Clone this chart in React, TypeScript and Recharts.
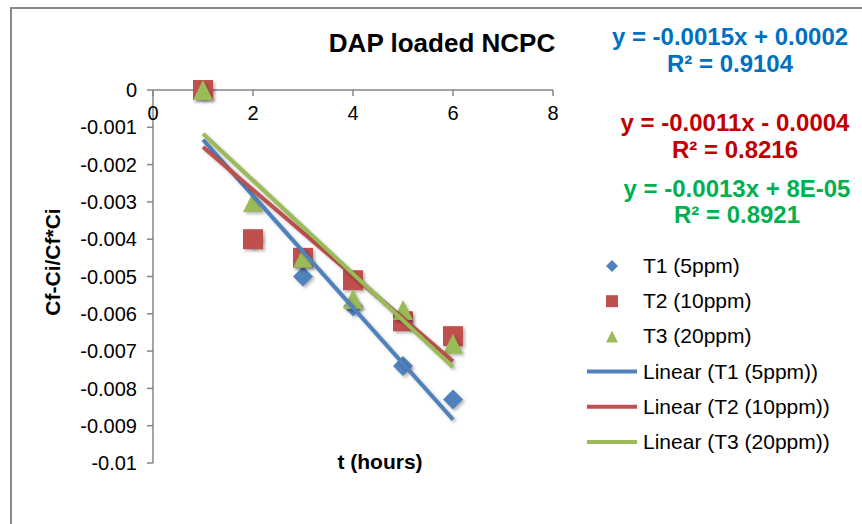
import React from 'react';
import { ScatterChart, Scatter, XAxis, YAxis, Legend } from 'recharts';

// Sampling times (hours) and measured Cf-Ci/Cf*Ci for each dose
const hours = [1, 2, 3, 4, 5, 6];
const t1 = [0, -0.004, -0.005, -0.0058, -0.0074, -0.0083];
const t2 = [0, -0.004, -0.0045, -0.0051, -0.0062, -0.0066];
const t3 = [0, -0.003, -0.0045, -0.0056, -0.0059, -0.0068];

const seriesNames = ['T1 (5ppm)', 'T2 (10ppm)', 'T3 (20ppm)'];

// Trendline captions (rounded coefficients of the least-squares fits below)
const equationLabels = ['y = -0.0015x + 0.0002', 'y = -0.0011x - 0.0004', 'y = -0.0013x + 8E-05'];
const rSquared = ['0.9104', '0.8216', '0.8921'];

const xTicks = [0, 2, 4, 6, 8];
const yTicks = [0, -0.001, -0.002, -0.003, -0.004, -0.005, -0.006, -0.007, -0.008, -0.009, -0.01];

const FONT = '"Liberation Sans", Arial, Helvetica, sans-serif';
const AXIS = '#868686';
const markerColors = ['#4F81BD', '#C0504D', '#9BBB59'];
const textColors = ['#0070C0', '#C00000', '#00B050'];

const series = [t1, t2, t3];
const pointSets = series.map((ys) => hours.map((x, i) => ({ x, y: ys[i] })));

// ordinary least squares, like a spreadsheet linear trendline
const linearFit = (xs: number[], ys: number[]) => {
  const n = xs.length;
  const mx = xs.reduce((a, b) => a + b, 0) / n;
  const my = ys.reduce((a, b) => a + b, 0) / n;
  let sxy = 0;
  let sxx = 0;
  xs.forEach((x, i) => {
    sxy += (x - mx) * (ys[i] - my);
    sxx += (x - mx) * (x - mx);
  });
  const m = sxy / sxx;
  return { m, b: my - m * mx };
};

const fitSets = series.map((ys) => {
  const { m, b } = linearFit(hours, ys);
  const x0 = hours[0];
  const x1 = hours[hours.length - 1];
  return [
    { x: x0, y: m * x0 + b },
    { x: x1, y: m * x1 + b },
  ];
});

const shadow = { filter: 'drop-shadow(2px 2px 1.5px rgba(0,0,0,0.28))' };

const Diamond = (p: any) => {
  const { cx, cy } = p;
  const r = 10;
  return <path d={`M${cx},${cy - r}L${cx + r},${cy}L${cx},${cy + r}L${cx - r},${cy}Z`} fill={markerColors[0]} style={shadow} />;
};
const Square = (p: any) => {
  const { cx, cy } = p;
  return <rect x={cx - 10} y={cy - 10} width={20} height={20} fill={markerColors[1]} style={shadow} />;
};
const Triangle = (p: any) => {
  const { cx, cy } = p;
  return <path d={`M${cx},${cy - 10}L${cx + 10},${cy + 10}L${cx - 10},${cy + 10}Z`} fill={markerColors[2]} style={shadow} />;
};
const NoMarker = () => <g />;
const shapes = [Diamond, Square, Triangle];

const LegendBox = () => {
  const rowY = (i: number) => 18 + i * 35.2;
  return (
    <svg width={280} height={220} style={{ display: 'block' }}>
      {seriesNames.map((name, i) => {
        const cy = rowY(i);
        const cx = 32;
        let mark;
        if (i === 0) mark = <path d={`M${cx},${cy - 6}L${cx + 6},${cy}L${cx},${cy + 6}L${cx - 6},${cy}Z`} fill={markerColors[0]} />;
        else if (i === 1) mark = <rect x={cx - 6} y={cy - 6} width={12} height={12} fill={markerColors[1]} />;
        else mark = <path d={`M${cx},${cy - 6}L${cx + 6},${cy + 6}L${cx - 6},${cy + 6}Z`} fill={markerColors[2]} />;
        return (
          <g key={name}>
            {mark}
            <text x={63} y={cy + 7} fontSize={21} fontFamily={FONT} fill="#000">{name}</text>
          </g>
        );
      })}
      {seriesNames.map((name, i) => {
        const cy = rowY(i + 3);
        return (
          <g key={'lin' + name}>
            <line x1={7} x2={57} y1={cy} y2={cy} stroke={markerColors[i]} strokeWidth={4} />
            <text x={63} y={cy + 7} fontSize={21} fontFamily={FONT} fill="#000">{`Linear (${name})`}</text>
          </g>
        );
      })}
    </svg>
  );
};

const eqPos = [
  { x: 730, y1: 45, y2: 72 },
  { x: 735, y1: 131, y2: 158 },
  { x: 737, y1: 197, y2: 223 },
];

export default function App() {
  return (
    <div style={{ position: 'absolute', left: 0, top: 0, width: 862, height: 524, background: '#fff', overflow: 'hidden' }}>
      <div style={{ position: 'absolute', left: 10, top: 7, width: 900, height: 600, borderTop: '2px solid #8a8a8a', borderLeft: '2px solid #8a8a8a' }} />
      <ScatterChart width={862} height={524} margin={{ top: 90, left: 152, right: 309, bottom: 61 }}>
        <XAxis
          type="number"
          dataKey="x"
          orientation="top"
          mirror
          height={1}
          domain={[0, 8]}
          ticks={xTicks}
          interval={0}
          tickSize={6}
          tickMargin={10}
          stroke={AXIS}
          strokeWidth={1.5}
          tick={{ fill: '#000', fontSize: 20, fontFamily: FONT }}
        />
        <YAxis
          type="number"
          dataKey="y"
          width={1}
          domain={[-0.01, 0]}
          ticks={yTicks}
          interval={0}
          tickSize={6}
          tickMargin={10}
          stroke={AXIS}
          strokeWidth={1.5}
          tickFormatter={(v: number) => String(v)}
          tick={{ fill: '#000', fontSize: 20, fontFamily: FONT }}
        />
        {pointSets.map((pts, i) => (
          <Scatter key={seriesNames[i]} name={seriesNames[i]} data={pts} fill={markerColors[i]} shape={shapes[i]} isAnimationActive={false} />
        ))}
        {fitSets.map((pts, i) => (
          <Scatter
            key={'fit' + i}
            name={`Linear (${seriesNames[i]})`}
            data={pts}
            fill={markerColors[i]}
            shape={NoMarker}
            line={{ stroke: markerColors[i], strokeWidth: 4 }}
            className="trend"
            isAnimationActive={false}
          />
        ))}
        <Legend
          layout="vertical"
          align="center"
          verticalAlign="middle"
          content={() => <LegendBox />}
          wrapperStyle={{ position: 'absolute', left: 580, top: 248, width: 280, height: 220 }}
        />
      </ScatterChart>
      <style>{'.trend path { filter: drop-shadow(2px 2px 1.5px rgba(0,0,0,0.28)); }'}</style>
      <svg width={862} height={524} style={{ position: 'absolute', left: 0, top: 0, pointerEvents: 'none' }}>
        <text x={442} y={52} textAnchor="middle" fontSize={26} fontWeight="bold" fontFamily={FONT} fill="#000">DAP loaded NCPC</text>
        <text x={380} y={469} textAnchor="middle" fontSize={21} fontWeight="bold" fontFamily={FONT} fill="#000">t (hours)</text>
        <text transform="translate(60,262) rotate(-90)" textAnchor="middle" fontSize={21} fontWeight="bold" fontFamily={FONT} fill="#000">Cf-Ci/Cf*Ci</text>
        {equationLabels.map((eq, i) => (
          <g key={eq}>
            <text x={eqPos[i].x} y={eqPos[i].y1} textAnchor="middle" fontSize={24} fontWeight="bold" fontFamily={FONT} fill={textColors[i]}>{eq}</text>
            <text x={eqPos[i].x} y={eqPos[i].y2} textAnchor="middle" fontSize={24} fontWeight="bold" fontFamily={FONT} fill={textColors[i]}>{`R² = ${rSquared[i]}`}</text>
          </g>
        ))}
      </svg>
    </div>
  );
}
